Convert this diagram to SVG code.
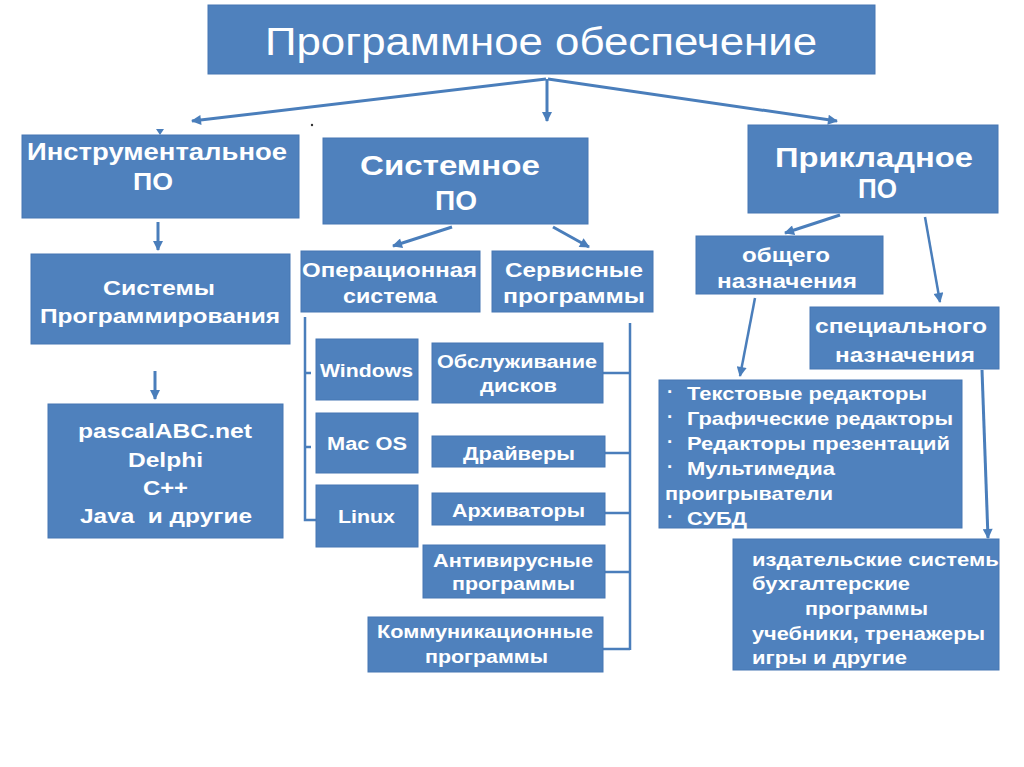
<svg xmlns="http://www.w3.org/2000/svg" width="1024" height="767" viewBox="0 0 1024 767">
<style>
.box{fill:#4f81bd;stroke:#4677b3;stroke-width:1}
.t{fill:#ffffff;font-family:"Liberation Sans",Arial,sans-serif;font-weight:bold}
.title{fill:#ffffff;font-family:"Liberation Sans",Arial,sans-serif;font-size:38px}
.h{font-size:28px}
.m{font-size:21px}
.s{font-size:18px}
.l{font-size:19px}
.c{fill:none;stroke:#4a7ebb;stroke-width:3}
.c2{fill:none;stroke:#4a7ebb;stroke-width:2.5}
</style>
<defs>
<marker id="ah" viewBox="0 0 10 10" refX="9" refY="5" markerWidth="11" markerHeight="10" markerUnits="userSpaceOnUse" orient="auto">
<path d="M0,0 L10,5 L0,10 z" fill="#4a7ebb"/>
</marker>
<clipPath id="clipLast"><rect x="733" y="539" width="266" height="131"/></clipPath>
</defs>
<rect width="1024" height="767" fill="#ffffff"/>

<g id="connectors">
<line class="c" x1="546" y1="79" x2="192" y2="121" marker-end="url(#ah)"/>
<line class="c" x1="547" y1="79" x2="547" y2="121" marker-end="url(#ah)"/>
<line class="c" x1="548" y1="79" x2="837" y2="121" marker-end="url(#ah)"/>
<polygon points="156,129 164,129 160,135" fill="#4a7ebb"/>
<circle cx="312" cy="125" r="1.2" fill="#333"/>
<line class="c" x1="158" y1="222" x2="158" y2="250" marker-end="url(#ah)"/>
<line class="c" x1="155" y1="371" x2="155" y2="399" marker-end="url(#ah)"/>
<line class="c" x1="452" y1="227" x2="393" y2="246" marker-end="url(#ah)"/>
<line class="c" x1="553" y1="227" x2="589" y2="247" marker-end="url(#ah)"/>
<polyline class="c2" points="305,317 305,520 316,520"/>
<line class="c2" x1="305" y1="373" x2="311" y2="373"/>
<line class="c2" x1="305" y1="447" x2="311" y2="447"/>
<line class="c2" x1="630" y1="323" x2="630" y2="650"/>
<line class="c2" x1="603" y1="373" x2="630" y2="373"/>
<line class="c2" x1="605" y1="453" x2="630" y2="453"/>
<line class="c2" x1="605" y1="513" x2="630" y2="513"/>
<line class="c2" x1="605" y1="572" x2="630" y2="572"/>
<line class="c2" x1="603" y1="649" x2="630" y2="649"/>
<line class="c" x1="840" y1="215" x2="785" y2="233" marker-end="url(#ah)"/>
<line class="c2" x1="925" y1="217" x2="940" y2="302" marker-end="url(#ah)"/>
<line class="c2" x1="755" y1="298" x2="740" y2="376" marker-end="url(#ah)"/>
<line class="c" x1="982" y1="370" x2="988" y2="538" marker-end="url(#ah)"/>
</g>

<g id="n-title">
<rect class="box" x="208" y="5" width="667" height="69"/>
<text class="title" x="265" y="55" textLength="552" lengthAdjust="spacingAndGlyphs">Программное обеспечение</text>
</g>

<g id="n-instr">
<rect class="box" x="22" y="135" width="277" height="83"/>
<text class="t" font-size="24" x="27" y="160" textLength="260" lengthAdjust="spacingAndGlyphs">Инструментальное</text>
<text class="t" font-size="24" x="133" y="190" textLength="40" lengthAdjust="spacingAndGlyphs">ПО</text>
</g>

<g id="n-sys">
<rect class="box" x="323" y="138" width="265" height="86"/>
<text class="t h" x="360" y="175" textLength="180" lengthAdjust="spacingAndGlyphs">Системное</text>
<text class="t h" x="435" y="210" textLength="42" lengthAdjust="spacingAndGlyphs">ПО</text>
</g>

<g id="n-prikl">
<rect class="box" x="748" y="125" width="250" height="88"/>
<text class="t h" x="775" y="167" textLength="198" lengthAdjust="spacingAndGlyphs">Прикладное</text>
<text class="t h" x="858" y="198" textLength="39" lengthAdjust="spacingAndGlyphs">ПО</text>
</g>

<g id="n-sysprog">
<rect class="box" x="31" y="254" width="259" height="90"/>
<text class="t m" x="103" y="295" textLength="112" lengthAdjust="spacingAndGlyphs">Системы</text>
<text class="t m" x="40" y="323" textLength="240" lengthAdjust="spacingAndGlyphs">Программирования</text>
</g>

<g id="n-pascal">
<rect class="box" x="48" y="404" width="235" height="134"/>
<text class="t m" x="78" y="438" textLength="174" lengthAdjust="spacingAndGlyphs">pascalABC.net</text>
<text class="t m" x="128" y="467" textLength="75" lengthAdjust="spacingAndGlyphs">Delphi</text>
<text class="t m" x="143" y="495" textLength="45" lengthAdjust="spacingAndGlyphs">C++</text>
<text class="t m" x="80" y="523" textLength="172" lengthAdjust="spacingAndGlyphs" xml:space="preserve">Java  и другие</text>
</g>

<g id="n-os">
<rect class="box" x="301" y="251" width="179" height="61"/>
<text class="t m" x="302" y="277" textLength="175" lengthAdjust="spacingAndGlyphs">Операционная</text>
<text class="t m" x="343" y="303" textLength="94" lengthAdjust="spacingAndGlyphs">система</text>
</g>

<g id="n-serv">
<rect class="box" x="492" y="251" width="161" height="61"/>
<text class="t m" x="505" y="277" textLength="138" lengthAdjust="spacingAndGlyphs">Сервисные</text>
<text class="t m" x="503" y="303" textLength="142" lengthAdjust="spacingAndGlyphs">программы</text>
</g>

<g id="n-win">
<rect class="box" x="316" y="339" width="102" height="61"/>
<text class="t s" x="320" y="377" textLength="93" lengthAdjust="spacingAndGlyphs">Windows</text>
</g>
<g id="n-mac">
<rect class="box" x="316" y="413" width="102" height="60"/>
<text class="t s" x="327" y="450" textLength="80" lengthAdjust="spacingAndGlyphs">Mac OS</text>
</g>
<g id="n-linux">
<rect class="box" x="316" y="485" width="102" height="62"/>
<text class="t s" x="338" y="523" textLength="57" lengthAdjust="spacingAndGlyphs">Linux</text>
</g>

<g id="n-disk">
<rect class="box" x="432" y="343" width="171" height="60"/>
<text class="t s" x="437" y="368" textLength="160" lengthAdjust="spacingAndGlyphs">Обслуживание</text>
<text class="t s" x="480" y="392" textLength="77" lengthAdjust="spacingAndGlyphs">дисков</text>
</g>
<g id="n-drv">
<rect class="box" x="432" y="436" width="173" height="31"/>
<text class="t s" x="463" y="460" textLength="112" lengthAdjust="spacingAndGlyphs">Драйверы</text>
</g>
<g id="n-arch">
<rect class="box" x="432" y="493" width="173" height="32"/>
<text class="t s" x="452" y="517" textLength="133" lengthAdjust="spacingAndGlyphs">Архиваторы</text>
</g>
<g id="n-anti">
<rect class="box" x="423" y="545" width="182" height="53"/>
<text class="t s" x="433" y="567" textLength="160" lengthAdjust="spacingAndGlyphs">Антивирусные</text>
<text class="t s" x="452" y="590" textLength="123" lengthAdjust="spacingAndGlyphs">программы</text>
</g>
<g id="n-comm">
<rect class="box" x="368" y="617" width="235" height="55"/>
<text class="t s" x="377" y="638" textLength="216" lengthAdjust="spacingAndGlyphs">Коммуникационные</text>
<text class="t s" x="425" y="663" textLength="123" lengthAdjust="spacingAndGlyphs">программы</text>
</g>

<g id="n-obsh">
<rect class="box" x="696" y="236" width="187" height="58"/>
<text class="t m" x="742" y="262" textLength="88" lengthAdjust="spacingAndGlyphs">общего</text>
<text class="t m" x="717" y="288" textLength="140" lengthAdjust="spacingAndGlyphs">назначения</text>
</g>
<g id="n-spec">
<rect class="box" x="810" y="307" width="189" height="62"/>
<text class="t m" x="815" y="333" textLength="172" lengthAdjust="spacingAndGlyphs">специального</text>
<text class="t m" x="835" y="362" textLength="140" lengthAdjust="spacingAndGlyphs">назначения</text>
</g>

<g id="n-list">
<rect class="box" x="659" y="380" width="303" height="148"/>
<text class="t l" x="667" y="398">·</text>
<text class="t l" x="687" y="400" textLength="240" lengthAdjust="spacingAndGlyphs">Текстовые редакторы</text>
<text class="t l" x="667" y="423">·</text>
<text class="t l" x="687" y="425" textLength="266" lengthAdjust="spacingAndGlyphs">Графические редакторы</text>
<text class="t l" x="667" y="448">·</text>
<text class="t l" x="687" y="450" textLength="263" lengthAdjust="spacingAndGlyphs">Редакторы презентаций</text>
<text class="t l" x="667" y="473">·</text>
<text class="t l" x="687" y="475" textLength="148" lengthAdjust="spacingAndGlyphs">Мультимедиа</text>
<text class="t l" x="665" y="500" textLength="168" lengthAdjust="spacingAndGlyphs">проигрыватели</text>
<text class="t l" x="667" y="523">·</text>
<text class="t l" x="687" y="525" textLength="60" lengthAdjust="spacingAndGlyphs">СУБД</text>
</g>

<g id="n-last">
<rect class="box" x="733" y="539" width="266" height="131"/>
<g clip-path="url(#clipLast)">
<text class="t l" x="752" y="566" textLength="252" lengthAdjust="spacingAndGlyphs">издательские системы</text>
</g>
<text class="t l" x="752" y="590" textLength="158" lengthAdjust="spacingAndGlyphs">бухгалтерские</text>
<text class="t l" x="805" y="615" textLength="123" lengthAdjust="spacingAndGlyphs">программы</text>
<text class="t l" x="752" y="640" textLength="233" lengthAdjust="spacingAndGlyphs">учебники, тренажеры</text>
<text class="t l" x="752" y="664" textLength="155" lengthAdjust="spacingAndGlyphs">игры и другие</text>
</g>
</svg>
